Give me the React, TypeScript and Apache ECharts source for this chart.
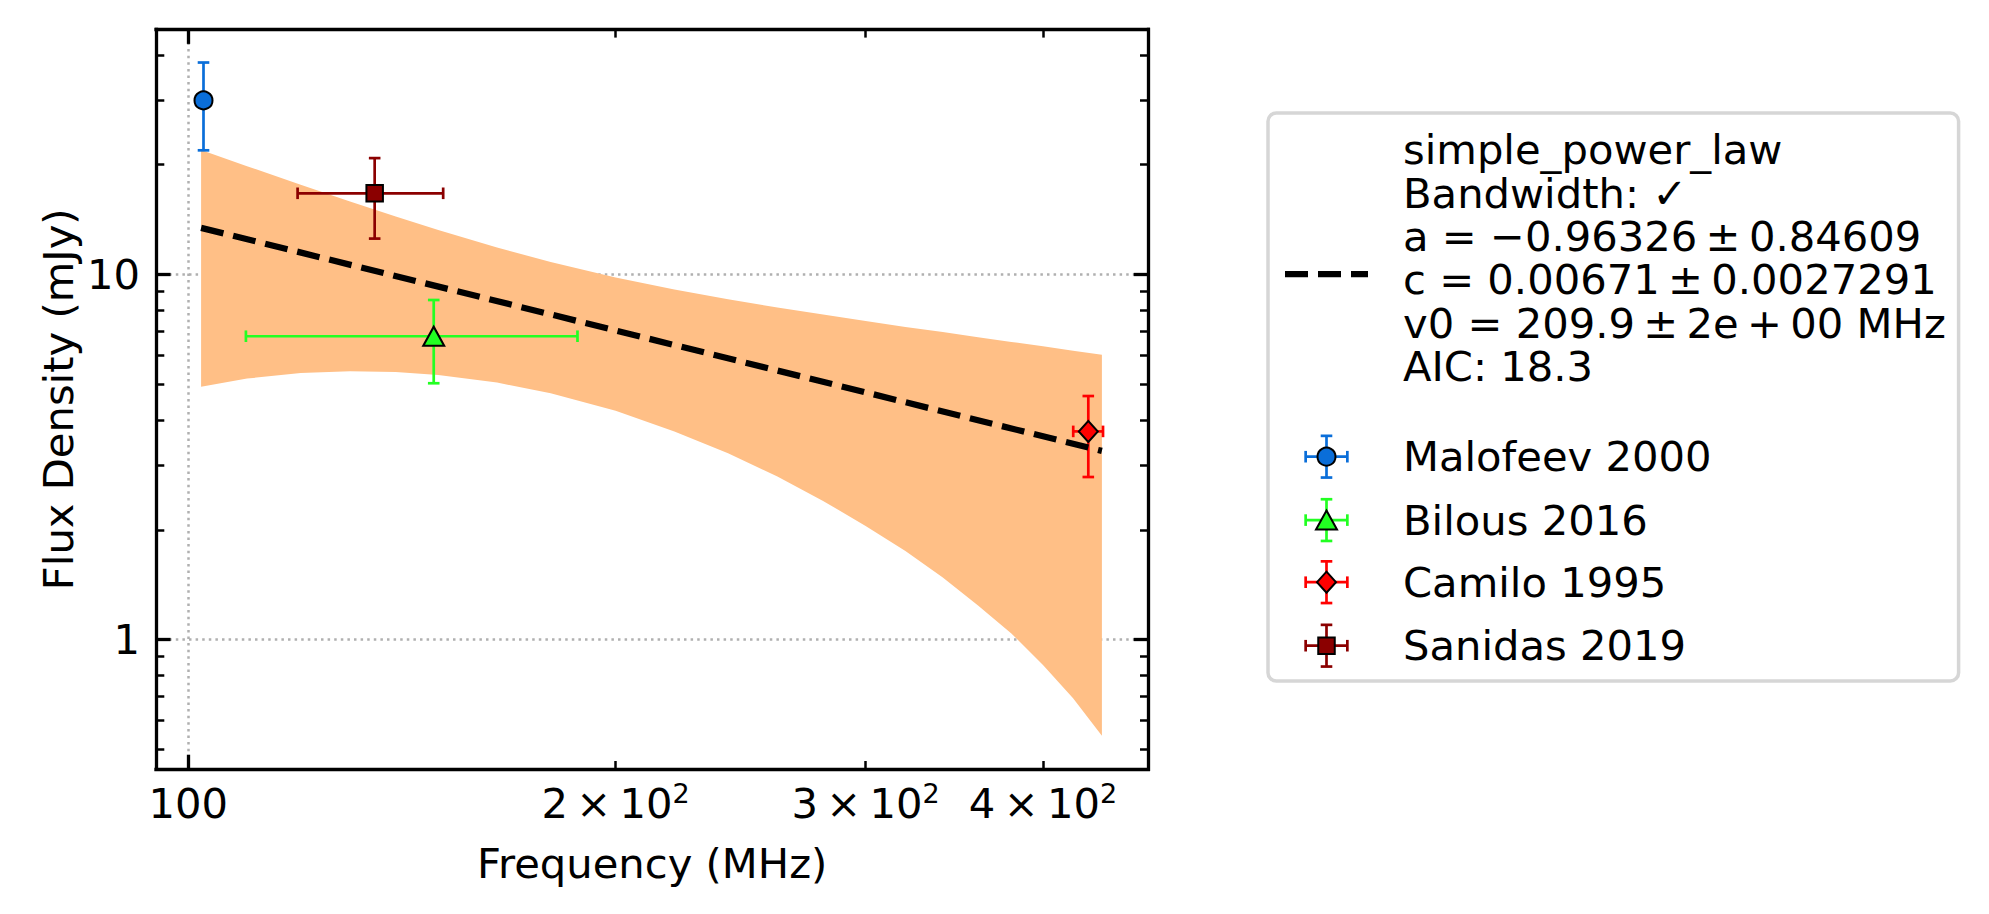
import React, { useEffect, useRef } from "react";
import * as echarts from "echarts";

const FONT = "DejaVu Sans";
const FS = 41.7;
const TS = "\u2009"; // thin space, as in the math-typeset parts of the reference

// ---- axis extents (MHz, mJy) ----
const freqAxisRange = [94.9, 474.5];
const fluxAxisRange = [0.4416, 46.98];

// ---- ticks & tick labels ----
const xMajorTickValues = [100];
const xMinorTickValues = [200, 300, 400];
const xLabelValues = [100, 200, 300, 400];
const xLabelTexts = [
  "{n|100}",
  `{n|2${TS}×${TS}10}{s|2}`,
  `{n|3${TS}×${TS}10}{s|2}`,
  `{n|4${TS}×${TS}10}{s|2}`,
];
const yMajorTickValues = [1, 10];
const yMinorTickValues = [0.5, 0.6, 0.7, 0.8, 0.9, 2, 3, 4, 5, 6, 7, 8, 9, 20, 30, 40];
const yLabelValues = [1, 10];
const yLabelTexts = ["1", "10"];

// ---- measurements ----
const pointNames = ["Malofeev 2000", "Bilous 2016", "Camilo 1995", "Sanidas 2019"];
const pointFreq = [102.5, 148.9, 430.5, 135.3];
const pointFreqErr = [0, 39.1, 10.4, 15.9];
const pointFlux = [30, 6.78, 3.72, 16.7];
const pointFluxErr = [8.1, 1.74, 0.93, 4.15];
const pointColors = ["#0a6ed9", "#22ff22", "#ff0000", "#8b0000"];
const pointSymbols = ["circle", "triangle", "diamond", "rect"];
const pointSymbolSizes = [[18, 18], [21, 19], [19, 21], [16.5, 16.5]];

// ---- fit ----
const fitFreq = [102.1, 440.1];
const fitFlux = [13.43, 3.29];
const bandFreq = [102.1, 110, 120, 130, 140, 150, 165, 180, 200, 220, 240, 260, 280, 300, 320, 340, 360, 380, 400, 420, 440.1];
const bandUpper = [21.94, 19.82, 17.62, 15.85, 14.42, 13.24, 11.86, 10.83, 9.82, 9.1, 8.56, 8.13, 7.77, 7.46, 7.19, 6.96, 6.74, 6.54, 6.36, 6.19, 6.03];
const bandLower = [4.93, 5.19, 5.38, 5.44, 5.41, 5.31, 5.06, 4.73, 4.24, 3.72, 3.24, 2.8, 2.4, 2.05, 1.75, 1.48, 1.24, 1.04, 0.853, 0.691, 0.546];

// ---- legend texts ----
const fitLegendLines = [
  "simple_power_law",
  "Bandwidth: ✓",
  `a = −0.96326${TS}±${TS}0.84609`,
  `c = 0.00671${TS}±${TS}0.0027291`,
  `v0 = 209.9${TS}±${TS}2e${TS}+${TS}00 MHz`,
  "AIC: 18.3",
];

const lg = (v: number) => Math.log10(v);

function findLabel(values: number[], texts: string[], v: number) {
  for (let i = 0; i < values.length; i++) {
    if (Math.abs(lg(values[i]) - v) < 1e-6) return texts[i];
  }
  return "";
}

function buildOption() {
  const xMin = lg(freqAxisRange[0]);
  const xMax = lg(freqAxisRange[1]);
  const yMin = lg(fluxAxisRange[0]);
  const yMax = lg(fluxAxisRange[1]);
  const spine = { show: true, onZero: false, lineStyle: { color: "#000", width: 3.3, cap: "square" } };
  const noLine = { show: false, onZero: false };
  const majorTick = (vals: number[]) => ({
    show: true, inside: true, length: 14.6, customValues: vals.map(lg),
    lineStyle: { color: "#000", width: 3.3 },
  });
  const minorTick = (vals: number[]) => ({
    show: true, inside: true, length: 8.3, customValues: vals.map(lg),
    lineStyle: { color: "#000", width: 2.5 },
  });
  const gridLine = { show: true, lineStyle: { color: "#b0b0b0", width: 2.5, type: [2.5, 4.1] } };

  const xCommon = { type: "value", min: xMin, max: xMax, gridIndex: 0, splitLine: { show: false }, axisLabel: { show: false } };
  const yCommon = { type: "value", min: yMin, max: yMax, gridIndex: 0, splitLine: { show: false }, axisLabel: { show: false } };

  const xAxis = [
    {
      ...xCommon, position: "bottom", axisLine: spine, axisTick: majorTick(xMajorTickValues),
      splitLine: gridLine,
      axisLabel: {
        show: true, margin: 11, customValues: xLabelValues.map(lg),
        formatter: (v: number) => findLabel(xLabelValues, xLabelTexts, v),
        fontSize: FS, fontFamily: FONT, color: "#000",
        rich: {
          n: { fontSize: FS, fontFamily: FONT, color: "#000", lineHeight: 46 },
          s: { fontSize: 27, fontFamily: FONT, color: "#000", lineHeight: 27, verticalAlign: "top" },
        },
      },
      name: "Frequency (MHz)", nameLocation: "middle", nameGap: 73, nameMoveOverlap: false,
      nameTextStyle: { fontSize: FS, fontFamily: FONT, color: "#000" },
    },
    { ...xCommon, position: "bottom", axisLine: noLine, axisTick: minorTick(xMinorTickValues) },
    { ...xCommon, position: "top", axisLine: spine, axisTick: majorTick(xMajorTickValues) },
    { ...xCommon, position: "top", axisLine: noLine, axisTick: minorTick(xMinorTickValues) },
  ];
  const yAxis = [
    {
      ...yCommon, position: "left", axisLine: spine, axisTick: majorTick(yMajorTickValues),
      splitLine: gridLine,
      axisLabel: {
        show: true, margin: 16, customValues: yLabelValues.map(lg),
        formatter: (v: number) => findLabel(yLabelValues, yLabelTexts, v),
        fontSize: FS, fontFamily: FONT, color: "#000",
      },
      name: "Flux Density (mJy)", nameLocation: "middle", nameRotate: 90, nameGap: 77, nameMoveOverlap: false,
      nameTextStyle: { fontSize: FS, fontFamily: FONT, color: "#000" },
    },
    { ...yCommon, position: "left", axisLine: noLine, axisTick: minorTick(yMinorTickValues) },
    { ...yCommon, position: "right", axisLine: spine, axisTick: majorTick(yMajorTickValues) },
    { ...yCommon, position: "right", axisLine: noLine, axisTick: minorTick(yMinorTickValues) },
  ];

  const bandRows = bandFreq.map((f, i) => [lg(f), lg(bandUpper[i]), lg(bandLower[i])]);
  const bandSeries = {
    type: "custom", name: "band", z: 1, silent: true, xAxisIndex: 0, yAxisIndex: 0,
    data: bandRows, encode: { x: 0, y: 1 },
    renderItem: (params: any, api: any) => {
      if (params.dataIndex !== 0) return null;
      const pts: number[][] = [];
      for (let i = 0; i < bandFreq.length; i++) pts.push(api.coord([lg(bandFreq[i]), lg(bandUpper[i])]));
      for (let i = bandFreq.length - 1; i >= 0; i--) pts.push(api.coord([lg(bandFreq[i]), lg(bandLower[i])]));
      return { type: "polygon", shape: { points: pts }, style: { fill: "#ffbf86" } };
    },
  };

  const errRows = pointFreq.map((f, i) => [
    lg(f), lg(pointFlux[i]),
    lg(f - pointFreqErr[i]), lg(f + pointFreqErr[i]),
    lg(pointFlux[i] - pointFluxErr[i]), lg(pointFlux[i] + pointFluxErr[i]), i,
  ]);
  const CAP = 5.8;
  const errSeries = {
    type: "custom", name: "errorbars", z: 2, silent: true, xAxisIndex: 0, yAxisIndex: 0,
    data: errRows, encode: { x: 0, y: 1 },
    renderItem: (params: any, api: any) => {
      const idx = api.value(6);
      const color = pointColors[idx];
      const c = api.coord([api.value(0), api.value(1)]);
      const top = api.coord([api.value(0), api.value(5)]);
      const bot = api.coord([api.value(0), api.value(4)]);
      const style = { stroke: color, lineWidth: 2.7 };
      const children: any[] = [
        { type: "line", shape: { x1: c[0], y1: top[1], x2: c[0], y2: bot[1] }, style },
        { type: "line", shape: { x1: c[0] - CAP, y1: top[1], x2: c[0] + CAP, y2: top[1] }, style },
        { type: "line", shape: { x1: c[0] - CAP, y1: bot[1], x2: c[0] + CAP, y2: bot[1] }, style },
      ];
      if (api.value(3) > api.value(2)) {
        const l = api.coord([api.value(2), api.value(1)]);
        const r = api.coord([api.value(3), api.value(1)]);
        children.push(
          { type: "line", shape: { x1: l[0], y1: c[1], x2: r[0], y2: c[1] }, style },
          { type: "line", shape: { x1: l[0], y1: c[1] - CAP, x2: l[0], y2: c[1] + CAP }, style },
          { type: "line", shape: { x1: r[0], y1: c[1] - CAP, x2: r[0], y2: c[1] + CAP }, style },
        );
      }
      return { type: "group", children };
    },
  };

  const fitSeries = {
    type: "line", name: "simple_power_law", z: 3, silent: true, symbol: "none",
    data: fitFreq.map((f, i) => [lg(f), lg(fitFlux[i])]),
    lineStyle: { color: "#000", width: 6.25, type: [23, 10] },
  };

  const scatterSeries = pointNames.map((name, i) => ({
    type: "scatter", name, z: 4, silent: true,
    symbol: pointSymbols[i], symbolSize: pointSymbolSizes[i],
    data: [[lg(pointFreq[i]), lg(pointFlux[i])]],
    itemStyle: { color: pointColors[i], borderColor: "#000", borderWidth: 2, opacity: 1 },
  }));

  // ---- legend (drawn as graphic) ----
  const LX = 1268, LY = 113, LW = 690.6, LH = 568;
  const handleCx = 1326.5;
  const textX = 1403;
  const LINE_H = 43.4;
  const firstLineCenter = 149.7;
  const entryY = [456.7, 520.1, 582.2, 645.7];
  const g: any[] = [
    {
      type: "rect", shape: { x: LX, y: LY, width: LW, height: LH, r: 8.3 },
      style: { fill: "#fff", stroke: "#d6d6d6", lineWidth: 3.5 },
    },
    {
      type: "line", shape: { x1: 1285, y1: 274, x2: 1368, y2: 274 },
      style: { stroke: "#000", lineWidth: 6.25, lineDash: [23, 10] },
    },
    {
      type: "text", x: textX, y: firstLineCenter - LINE_H / 2,
      style: {
        text: fitLegendLines.join("\n"), fontSize: FS, fontFamily: FONT, fill: "#000",
        lineHeight: LINE_H, align: "left", verticalAlign: "top", textAlign: "left", textVerticalAlign: "top",
      },
    },
  ];
  const E = 20.85;
  pointNames.forEach((name, i) => {
    const cy = entryY[i];
    const col = pointColors[i];
    const st = { stroke: col, lineWidth: 2.7 };
    g.push(
      { type: "line", shape: { x1: handleCx, y1: cy - E, x2: handleCx, y2: cy + E }, style: st },
      { type: "line", shape: { x1: handleCx - E, y1: cy, x2: handleCx + E, y2: cy }, style: st },
      { type: "line", shape: { x1: handleCx - CAP, y1: cy - E, x2: handleCx + CAP, y2: cy - E }, style: st },
      { type: "line", shape: { x1: handleCx - CAP, y1: cy + E, x2: handleCx + CAP, y2: cy + E }, style: st },
      { type: "line", shape: { x1: handleCx - E, y1: cy - CAP, x2: handleCx - E, y2: cy + CAP }, style: st },
      { type: "line", shape: { x1: handleCx + E, y1: cy - CAP, x2: handleCx + E, y2: cy + CAP }, style: st },
    );
    const ms = { fill: col, stroke: "#000", lineWidth: 2 };
    const [w, h] = pointSymbolSizes[i];
    if (pointSymbols[i] === "circle") {
      g.push({ type: "circle", shape: { cx: handleCx, cy, r: w / 2 }, style: ms });
    } else if (pointSymbols[i] === "triangle") {
      g.push({ type: "polygon", shape: { points: [[handleCx, cy - h / 2], [handleCx + w / 2, cy + h / 2], [handleCx - w / 2, cy + h / 2]] }, style: ms });
    } else if (pointSymbols[i] === "diamond") {
      g.push({ type: "polygon", shape: { points: [[handleCx, cy - h / 2], [handleCx + w / 2, cy], [handleCx, cy + h / 2], [handleCx - w / 2, cy]] }, style: ms });
    } else {
      g.push({ type: "rect", shape: { x: handleCx - w / 2, y: cy - h / 2, width: w, height: h }, style: ms });
    }
    g.push({
      type: "text", x: textX, y: cy,
      style: { text: name, fontSize: FS, fontFamily: FONT, fill: "#000", align: "left", verticalAlign: "middle", textAlign: "left", textVerticalAlign: "middle" },
    });
  });

  return {
    animation: false,
    backgroundColor: "#fff",
    textStyle: { fontFamily: FONT },
    grid: { left: 156, top: 29.3, width: 992.3, height: 740, containLabel: false, outerBoundsMode: "none" },
    xAxis,
    yAxis,
    series: [bandSeries, errSeries, fitSeries, ...scatterSeries],
    graphic: { elements: g },
  };
}

export default function App() {
  const ref = useRef<HTMLDivElement>(null);
  useEffect(() => {
    if (!ref.current) return;
    const chart = echarts.init(ref.current, undefined, { renderer: "svg" });
    chart.setOption(buildOption() as any);
    return () => chart.dispose();
  }, []);
  return (
    <div
      ref={ref}
      style={{ position: "absolute", left: 0, top: 0, width: 1989, height: 914, background: "#fff" }}
    />
  );
}
